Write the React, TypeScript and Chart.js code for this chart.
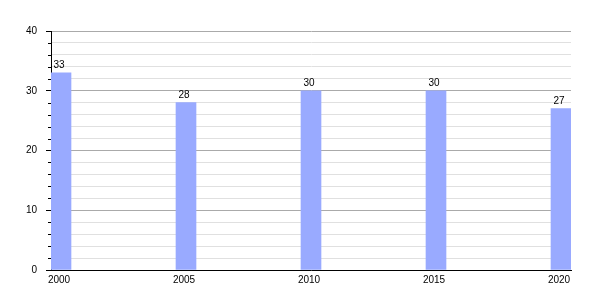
import React, { useEffect, useRef } from "react";
import { Chart, registerables } from "chart.js";

Chart.register(...registerables);

const years = [2000, 2005, 2010, 2015, 2020];
const values = [33, 28, 30, 30, 27];
const yTicks = [0, 10, 20, 30, 40];

const FONT = "'Liberation Sans', Arial, sans-serif";

const valueLabels = {
  id: "valueLabels",
  afterDatasetsDraw(chart: any) {
    const ctx = chart.ctx;
    const meta = chart.getDatasetMeta(0);
    ctx.save();
    ctx.fillStyle = "#000";
    ctx.font = `10px ${FONT}`;
    ctx.textAlign = "center";
    ctx.textBaseline = "alphabetic";
    meta.data.forEach((bar: any, i: number) => {
      ctx.fillText(String(values[i]), bar.x - 2, bar.y - 5);
    });
    ctx.restore();
  },
};

const minorTicks = {
  id: "minorTicks",
  afterDraw(chart: any) {
    const y = chart.scales.y;
    const ctx = chart.ctx;
    ctx.save();
    ctx.strokeStyle = "#000";
    ctx.lineWidth = 1;
    y.ticks.forEach((t: any) => {
      if (t.value % 10 === 0) return;
      const py = Math.round(y.getPixelForValue(t.value)) + 0.5;
      ctx.beginPath();
      ctx.moveTo(chart.chartArea.left - 3, py);
      ctx.lineTo(chart.chartArea.left, py);
      ctx.stroke();
    });
    ctx.restore();
  },
};

export default function App() {
  const ref = useRef<HTMLCanvasElement>(null);
  useEffect(() => {
    if (!ref.current) return;
    const chart = new Chart(ref.current, {
      type: "bar",
      data: {
        datasets: [
          {
            data: years.map((x, i) => ({ x, y: values[i] })),
            backgroundColor: "#99aaff",
            barThickness: 20,
          },
        ],
      },
      options: {
        animation: false,
        responsive: false,
        layout: { padding: { top: 31, right: 29, left: 0, bottom: 0 } },
        plugins: { legend: { display: false }, tooltip: { enabled: false } },
        scales: {
          x: {
            type: "linear",
            min: 1999.6,
            max: 2020.4,
            offset: false,
            grid: { display: false, drawTicks: false, offset: false },
            border: { display: true, color: "#000", width: 1 },
            afterBuildTicks: (s: any) => {
              s.ticks = years.map((v) => ({ value: v }));
            },
            afterFit: (s: any) => {
              s.height = 30;
            },
            ticks: {
              color: "#000",
              font: { family: FONT, size: 10 },
              padding: 4,
              labelOffset: -2,
              maxRotation: 0,
              autoSkip: false,
              callback: (v: any) => String(v),
            },
          },
          y: {
            min: 0,
            max: 40,
            afterBuildTicks: (s: any) => {
              const t = [];
              for (let v = 0; v <= 40; v += 2) t.push({ value: v });
              s.ticks = t;
            },
            afterFit: (s: any) => {
              s.width = 51;
            },
            grid: {
              color: (c: any) =>
                c.tick && c.tick.value % 10 === 0 ? "#aaaaaa" : "#e0e0e0",
              tickColor: (c: any) =>
                c.tick && c.tick.value % 10 === 0 ? "#000" : "rgba(0,0,0,0)",
              tickLength: 5,
              drawTicks: true,
            },
            border: { display: true, color: "#000", width: 1 },
            ticks: {
              color: "#000",
              font: { family: FONT, size: 10 },
              padding: 9,
              autoSkip: false,
              callback: (v: any) => (yTicks.includes(v) ? String(v) : ""),
            },
          },
        },
      },
      plugins: [valueLabels, minorTicks],
    });
    return () => chart.destroy();
  }, []);
  return (
    <div style={{ position: "absolute", left: 0, top: 0, width: 600, height: 300, background: "#fff" }}>
      <canvas ref={ref} width={600} height={300} />
    </div>
  );
}
